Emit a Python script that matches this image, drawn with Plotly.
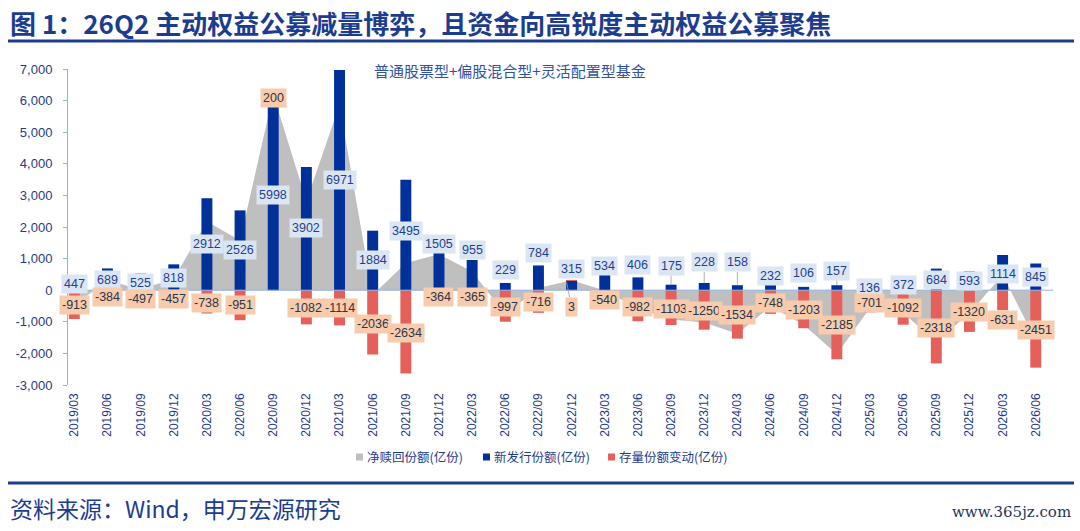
import plotly.graph_objects as go

# ---------------- data ----------------
categories = ["2019/03","2019/06","2019/09","2019/12","2020/03","2020/06","2020/09","2020/12",
              "2021/03","2021/06","2021/09","2021/12","2022/03","2022/06","2022/09","2022/12",
              "2023/03","2023/06","2023/09","2023/12","2024/03","2024/06","2024/09","2024/12",
              "2025/03","2025/06","2025/09","2025/12","2026/03","2026/06"]
new_issue = [447, 689, 525, 818, 2912, 2526, 5998, 3902, 6971, 1884, 3495, 1505, 955, 229, 784, 315,
             534, 406, 175, 228, 158, 232, 106, 157, 136, 372, 684, 593, 1114, 845]
stock_change = [-913, -384, -497, -457, -738, -951, 200, -1082, -1114, -2036, -2634, -364, -365, -997,
                -716, 3, -540, -982, -1103, -1250, -1534, -748, -1203, -2185, -701, -1092, -2318,
                -1320, -631, -2451]
net_redemption = [-466, 305, 28, 361, 2174, 1575, 6198, 2820, 5857, -152, 861, 1141, 590, -768, 68,
                  318, -6, -576, -928, -1022, -1376, -516, -1097, -2028, -565, -720, -1634, -727,
                  483, -1606]
series_names = ["净赎回份额(亿份)", "新发行份额(亿份)", "存量份额变动(亿份)"]
y_tickvals = [-3000, -2000, -1000, 0, 1000, 2000, 3000, 4000, 5000, 6000, 7000]
y_ticktext = ["-3,000", "-2,000", "-1,000", "0", "1,000", "2,000", "3,000", "4,000", "5,000",
              "6,000", "7,000"]

# ---------------- label placement (layout) ----------------
blue_label_y = [205, 317, 232, 390, 1450, 1260, 3000, 1960, 3480, 950, 1880, 1447, 1267, 655, 1170,
                686, 760, 813, 760, 877, 877, 455, 560, 600, 85, 180, 317, 285, 528, 421]
red_label_y = [-475, -212, -264, -264, -390, -475, 6090, -550, -550, -1057, -1352, -212, -212, -528,
               -370, -528, -317, -528, -602, -655, -792, -390, -612, -1109, -390, -560, -1183, -686,
               -950, -1246]
blue_leader = {18, 19, 20, 23}
red_leader = {15}

# ---------------- styles ----------------
GRAY = "#bfbfbf"
BLUE = "#00309a"
RED = "#e5605a"
NAVY = "#1c3d8f"
AXIS = "#8db3e2"
TXT = "#1f3a8a"

W, H = 1080, 531
L, R, T, B = 68, 1053, 69, 385


def px(x):
    return (x - L) / (R - L)


def py(y):
    return (B - y) / (B - T)


YR = [-3000, 7000]
XR = [-0.19, 29.52]

fig = go.Figure()
fig.add_trace(go.Scatter(x=categories, y=net_redemption, name=series_names[0], mode="lines",
                         fill="tozeroy", fillcolor=GRAY, line=dict(width=0, color=GRAY),
                         xaxis="x", yaxis="y", showlegend=False, hoverinfo="skip"))
fig.add_trace(go.Bar(x=categories, y=new_issue, name=series_names[1], marker_color=BLUE,
                     marker_line_width=0, width=0.33, xaxis="x2", yaxis="y2", showlegend=False))
fig.add_trace(go.Bar(x=categories, y=stock_change, name=series_names[2], marker_color=RED,
                     marker_line_width=0, width=0.33, xaxis="x2", yaxis="y2", showlegend=False))

annotations = []
label_font = "Liberation Sans, Arial, sans-serif"
for i, v in enumerate(new_issue):
    a = dict(xref="x", yref="y", text=str(v), bgcolor="#dbe6f4", borderpad=2,
             font=dict(family=label_font, size=12.5, color="#1f3f8f"))
    if i in blue_leader:
        a.update(x=i, y=v, ax=i, ay=blue_label_y[i], axref="x", ayref="y", showarrow=True,
                 arrowhead=0, arrowwidth=0.8, arrowcolor="#a0a0a0")
    else:
        a.update(x=i, y=blue_label_y[i], showarrow=False)
    annotations.append(a)
for i, v in enumerate(stock_change):
    a = dict(xref="x", yref="y", text=str(v), bgcolor="#f7cbac", borderpad=2,
             font=dict(family=label_font, size=12.5, color="#2d3548"))
    if i in red_leader:
        a.update(x=i - 0.15, y=250, ax=i, ay=red_label_y[i], axref="x", ayref="y", showarrow=True,
                 arrowhead=0, arrowwidth=0.8, arrowcolor="#a0a0a0")
    else:
        a.update(x=i, y=red_label_y[i], showarrow=False)
    annotations.append(a)

cjk = "Noto Sans CJK SC, sans-serif"
# title
annotations.append(dict(xref="paper", yref="paper", x=px(8), y=py(23), xanchor="left",
                        yanchor="middle", showarrow=False,
                        text="<b>图 1：26Q2 主动权益公募减量博弈，且资金向高锐度主动权益公募聚焦</b>",
                        font=dict(family=cjk, size=26, color=NAVY)))
# subtitle
annotations.append(dict(xref="paper", yref="paper", x=px(510), y=py(70), xanchor="center",
                        yanchor="middle", showarrow=False, text="普通股票型+偏股混合型+灵活配置型基金",
                        font=dict(family=cjk, size=15, color="#2e52a3")))
# legend
legend_items = [(series_names[0], GRAY, 356), (series_names[1], BLUE, 483), (series_names[2], RED, 608)]
shapes = []
for name, col, x0 in legend_items:
    shapes.append(dict(type="rect", xref="paper", yref="paper", x0=px(x0), x1=px(x0 + 7),
                       y0=py(460.5), y1=py(453.5), fillcolor=col, line=dict(width=0)))
    annotations.append(dict(xref="paper", yref="paper", x=px(x0 + 9), y=py(457), xanchor="left",
                            yanchor="middle", showarrow=False, text=name,
                            font=dict(family=cjk, size=12.5, color=TXT)))
# footer
annotations.append(dict(xref="paper", yref="paper", x=px(8), y=py(508), xanchor="left",
                        yanchor="middle", showarrow=False, text="资料来源：Wind，申万宏源研究",
                        font=dict(family=cjk, size=23, color=NAVY)))
annotations.append(dict(xref="paper", yref="paper", x=px(1073), y=py(512), xanchor="right",
                        yanchor="middle", showarrow=False, text="www.365jz.com",
                        font=dict(family="DejaVu Serif, serif", size=15, color="#1f3560")))

# lines
shapes.append(dict(type="line", xref="paper", yref="paper", x0=px(8), x1=px(1074), y0=py(41),
                   y1=py(41), line=dict(color=NAVY, width=3)))
shapes.append(dict(type="line", xref="paper", yref="paper", x0=px(8), x1=px(1074), y0=py(483),
                   y1=py(483), line=dict(color=NAVY, width=3)))
shapes.append(dict(type="line", xref="paper", yref="y", x0=0, x1=1, y0=0, y1=0,
                   line=dict(color=AXIS, width=1), layer="above"))

fig.update_layout(
    width=W, height=H, paper_bgcolor="white", plot_bgcolor="white",
    margin=dict(l=L, r=W - R, t=T, b=H - B, pad=0),
    barmode="relative", showlegend=False,
    xaxis=dict(type="category", range=XR, showgrid=False, zeroline=False, showline=False,
               ticks="", tickangle=-90, ticklabelstandoff=5,
               tickfont=dict(family=label_font, size=12, color=TXT)),
    yaxis=dict(range=YR, tickvals=y_tickvals, ticktext=y_ticktext, showgrid=False,
               zeroline=False, showline=True, linecolor=AXIS, linewidth=1, ticks="outside",
               ticklen=4, tickcolor=AXIS, ticklabelstandoff=8,
               tickfont=dict(family=label_font, size=13, color=TXT)),
    xaxis2=dict(type="category", overlaying="x", anchor="y2", range=XR, visible=False),
    yaxis2=dict(overlaying="y", anchor="x2", range=YR, visible=False),
    annotations=annotations, shapes=shapes,
)

fig.write_html("out.html")
